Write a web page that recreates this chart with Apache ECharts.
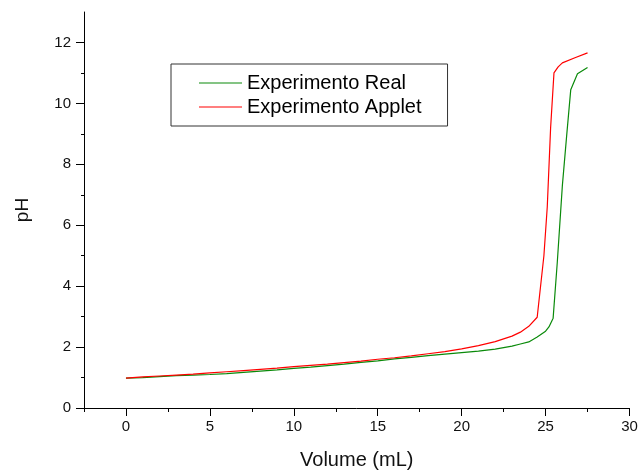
<!DOCTYPE html>
<html>
<head>
<meta charset="utf-8">
<title>Titulação: pH vs Volume</title>
<script src="https://cdn.jsdelivr.net/npm/echarts@6/dist/echarts.min.js"></script>
<style>
  html, body { margin: 0; padding: 0; background: #fff; }
  #chart { width: 638px; height: 472px; }
</style>
</head>
<body>
<div id="chart"></div>
<script>
// Titration curve: measured data vs. applet simulation
var realVolume = [0, 1, 2, 3, 4, 5, 6, 7, 8, 9, 10, 11, 12, 13, 14, 15, 16, 17, 18, 19, 20, 21, 22, 23, 23.5, 24, 24.5, 25, 25.2, 25.45, 25.7, 26, 26.25, 26.5, 26.9, 27.5];
var realPH     = [0.98, 1.0, 1.03, 1.06, 1.08, 1.10, 1.13, 1.17, 1.21, 1.25, 1.30, 1.34, 1.39, 1.44, 1.50, 1.55, 1.61, 1.66, 1.72, 1.77, 1.82, 1.87, 1.93, 2.03, 2.10, 2.17, 2.33, 2.52, 2.66, 2.95, 4.8, 7.3, 8.9, 10.45, 10.97, 11.18];

var appletVolume = [0, 1, 2, 3, 4, 5, 6, 7, 8, 9, 10, 11, 12, 13, 14, 15, 16, 17, 18, 19, 20, 21, 22, 23, 23.5, 24, 24.5, 24.9, 25.1, 25.3, 25.5, 25.75, 26, 26.75, 27.5];
var appletPH     = [0.98, 1.02, 1.05, 1.08, 1.11, 1.15, 1.19, 1.23, 1.27, 1.31, 1.36, 1.40, 1.44, 1.49, 1.54, 1.60, 1.65, 1.71, 1.78, 1.85, 1.94, 2.05, 2.18, 2.36, 2.49, 2.68, 2.98, 5.0, 6.6, 9.2, 11.0, 11.2, 11.33, 11.5, 11.66];

var xMajorTicks = [0, 5, 10, 15, 20, 25, 30];
var xMinorTicks = [-2.5, 2.5, 7.5, 12.5, 17.5, 22.5, 27.5];
var yMajorTicks = [0, 2, 4, 6, 8, 10, 12];
var yMinorTicks = [1, 3, 5, 7, 9, 11];

var seriesNames = ['Experimento Real', 'Experimento Applet'];

function pairs(xs, ys) {
  return xs.map(function (x, i) { return [x, ys[i]]; });
}

var FONT = 'Liberation Sans, Arial, sans-serif';
var axisColor = '#000';

var chart = echarts.init(document.getElementById('chart'), null, { renderer: 'canvas' });

chart.setOption({
  animation: false,
  backgroundColor: '#fff',
  grid: { left: 84, right: 8.5, top: 12, bottom: 64, outerBoundsMode: 'none', containLabel: false },
  legend: {
    data: seriesNames,
    orient: 'vertical',
    left: 171,
    top: 64,
    padding: [9, 26, 9, 28],
    itemGap: 4,
    itemWidth: 43,
    itemHeight: 20,
    icon: 'path://M0,9.4 L43,9.4 L43,10.6 L0,10.6 Z',
    borderColor: '#333',
    borderWidth: 1,
    textStyle: { fontFamily: FONT, fontSize: 20, color: '#000' }
  },
  xAxis: [{
    type: 'value',
    min: -2.5,
    max: 30,
    name: 'Volume (mL)',
    nameLocation: 'middle',
    nameGap: 42,
    nameTextStyle: { fontFamily: FONT, fontSize: 20, color: '#111' },
    axisLine: { show: true, onZero: false, lineStyle: { color: axisColor, width: 1 } },
    axisTick: { show: true, length: 8, inside: false, customValues: xMajorTicks, lineStyle: { color: axisColor } },
    axisLabel: { customValues: xMajorTicks, margin: 11, fontFamily: FONT, fontSize: 15, color: '#111' },
    splitLine: { show: false }
  }, {
    type: 'value',
    position: 'bottom',
    min: -2.5,
    max: 30,
    axisLine: { show: false, onZero: false },
    axisTick: { show: true, length: 4, inside: false, customValues: xMinorTicks, lineStyle: { color: axisColor } },
    axisLabel: { show: false },
    splitLine: { show: false }
  }],
  yAxis: [{
    type: 'value',
    min: 0,
    max: 13,
    name: 'pH',
    nameLocation: 'middle',
    nameRotate: 90,
    nameGap: 52,
    nameTextStyle: { fontFamily: FONT, fontSize: 19, color: '#111' },
    axisLine: { show: true, onZero: false, lineStyle: { color: axisColor, width: 1 } },
    axisTick: { show: true, length: 8, inside: false, customValues: yMajorTicks, lineStyle: { color: axisColor } },
    axisLabel: { customValues: yMajorTicks, margin: 13, fontFamily: FONT, fontSize: 15, color: '#111' },
    splitLine: { show: false }
  }, {
    type: 'value',
    position: 'left',
    min: 0,
    max: 13,
    axisLine: { show: false, onZero: false },
    axisTick: { show: true, length: 3, inside: false, customValues: yMinorTicks, lineStyle: { color: axisColor } },
    axisLabel: { show: false },
    splitLine: { show: false }
  }],
  series: [{
    name: seriesNames[0],
    type: 'line',
    xAxisIndex: 0,
    yAxisIndex: 0,
    symbol: 'none',
    color: '#0a8a0a',
    lineStyle: { color: '#0a8a0a', width: 1.2 },
    data: pairs(realVolume, realPH)
  }, {
    name: seriesNames[1],
    type: 'line',
    xAxisIndex: 0,
    yAxisIndex: 0,
    symbol: 'none',
    color: '#ff0000',
    lineStyle: { color: '#ff0000', width: 1.2 },
    data: pairs(appletVolume, appletPH)
  }]
});
</script>
</body>
</html>
